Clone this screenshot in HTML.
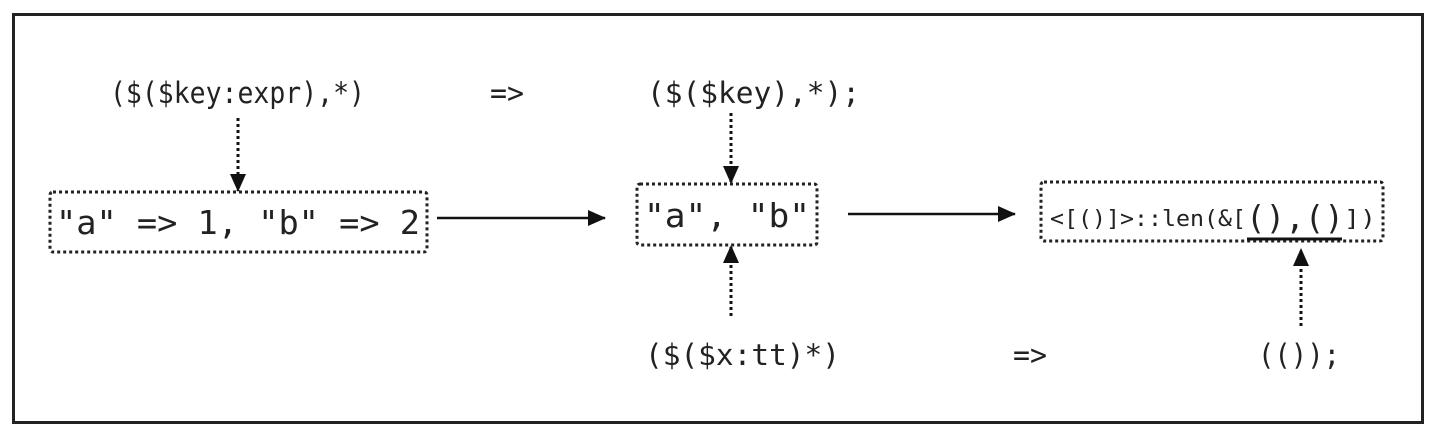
<!DOCTYPE html>
<html><head><meta charset="utf-8"><style>
html,body{margin:0;padding:0;background:#fff;}
svg{display:block;}
text{font-family:"DejaVu Sans Mono","Liberation Mono",monospace;fill:#222;}
</style></head><body>
<svg width="1438" height="435" viewBox="0 0 1438 435" xmlns="http://www.w3.org/2000/svg">
<defs>
<marker id="ah2" markerWidth="18" markerHeight="16" refX="17" refY="8" orient="auto" markerUnits="userSpaceOnUse" viewBox="0 0 18 16">
<path d="M0,0 L18,8 L0,16 z" fill="#111"/></marker>
</defs>
<rect x="13.5" y="14.5" width="1409" height="408" fill="none" stroke="#222" stroke-width="3"/>
<g font-size="29">
<text x="110" y="103" textLength="255" lengthAdjust="spacingAndGlyphs">($($key:expr),*)</text>
<text x="490" y="103" textLength="34" lengthAdjust="spacingAndGlyphs">=&gt;</text>
<text x="647" y="103" textLength="213" lengthAdjust="spacingAndGlyphs">($($key),*);</text>
<text x="645" y="365" textLength="195" lengthAdjust="spacingAndGlyphs">($($x:tt)*)</text>
<text x="1013" y="365" textLength="34" lengthAdjust="spacingAndGlyphs">=&gt;</text>
<text x="1258" y="365" textLength="82" lengthAdjust="spacingAndGlyphs">(());</text>
</g>
<g fill="none" stroke="#222" stroke-width="3" stroke-dasharray="3,3">
<rect x="50" y="192" width="377" height="60" rx="3"/>
<rect x="637" y="184" width="180" height="61" rx="3"/>
<rect x="1041" y="182" width="342" height="59" rx="3"/>
</g>
<g font-size="33">
<text x="56" y="234" textLength="364" lengthAdjust="spacingAndGlyphs">"a" =&gt; 1, "b" =&gt; 2</text>
<text x="644" y="227" textLength="166" lengthAdjust="spacingAndGlyphs">"a", "b"</text>
</g>
<text x="1050" y="226" font-size="22" textLength="196" lengthAdjust="spacingAndGlyphs">&lt;[()]&gt;::len(&amp;[</text>
<text x="1246" y="229" font-size="33" textLength="98" lengthAdjust="spacingAndGlyphs">(),()</text>
<text x="1344" y="226" font-size="22" textLength="32" lengthAdjust="spacingAndGlyphs">])</text>
<line x1="1247" y1="239" x2="1342" y2="239" stroke="#111" stroke-width="3"/>
<g stroke="#111" stroke-width="2.5">
<line x1="437" y1="218" x2="605" y2="218" marker-end="url(#ah2)"/>
<line x1="848" y1="214" x2="1015" y2="214" marker-end="url(#ah2)"/>
</g>
<g stroke="#111" stroke-width="3" stroke-dasharray="3,3">
<line x1="238" y1="118" x2="238" y2="191" marker-end="url(#ah2)"/>
<line x1="731" y1="113" x2="731" y2="183" marker-end="url(#ah2)"/>
<line x1="731" y1="316" x2="731" y2="246" marker-end="url(#ah2)"/>
<line x1="1301" y1="326" x2="1301" y2="249" marker-end="url(#ah2)"/>
</g>
</svg>
</body></html>
